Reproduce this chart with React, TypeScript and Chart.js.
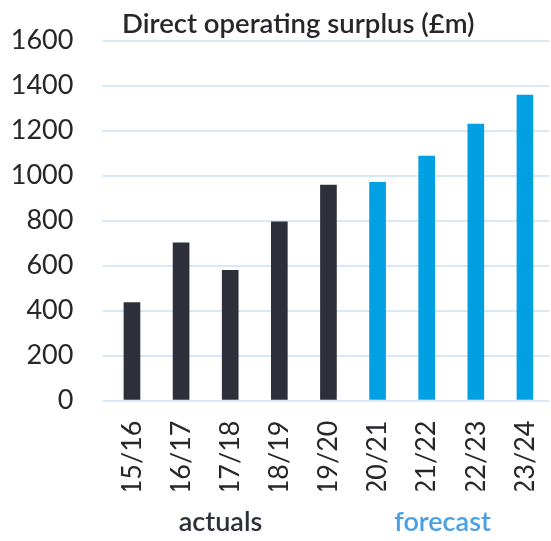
import React, { useEffect, useRef } from "react";
import { Chart, registerables } from "chart.js";

Chart.register(...registerables);

const categories = ["15/16", "16/17", "17/18", "18/19", "19/20", "20/21", "21/22", "22/23", "23/24"];
const surplusValues = [435, 701, 579, 795, 958, 970, 1087, 1229, 1358];
const isForecast = [false, false, false, false, false, true, true, true, true];
const yTicks = [0, 200, 400, 600, 800, 1000, 1200, 1400, 1600];
const titleText = "Direct operating surplus (£m)";
const groupLabels = ["actuals", "forecast"];

const DARK = "#2d3039";
const BLUE = "#00a0e2";
const FORECAST_TEXT = "#4aa0e4";
const GRID = "#d9e8f6";
const FONT = "Lato, 'Open Sans', sans-serif";

const overlayPlugin = {
  id: "overlayText",
  afterDraw(chart: any) {
    const ctx = chart.ctx;
    const x = chart.scales.x;
    ctx.save();
    ctx.textBaseline = "alphabetic";
    ctx.fillStyle = "#26262b";
    ctx.font = `600 27.5px ${FONT}`;
    ctx.textAlign = "left";
    ctx.fillText(titleText, 122, 33);

    ctx.font = `600 27px ${FONT}`;
    ctx.textAlign = "center";
    const actualIdx = isForecast.map((f, i) => (f ? -1 : i)).filter((i) => i >= 0);
    const fcIdx = isForecast.map((f, i) => (f ? i : -1)).filter((i) => i >= 0);
    const cx = (idx: number[]) =>
      (x.getPixelForValue(idx[0]) + x.getPixelForValue(idx[idx.length - 1])) / 2;
    ctx.fillStyle = DARK;
    ctx.fillText(groupLabels[0], 220.5, 531);
    ctx.fillStyle = FORECAST_TEXT;
    ctx.fillText(groupLabels[1], 442.5, 531);
    void cx;
    ctx.restore();
  },
};

export default function App() {
  const ref = useRef<HTMLCanvasElement>(null);
  useEffect(() => {
    document.body.style.margin = "0";
    const chart = new Chart(ref.current!, {
      type: "bar",
      data: {
        labels: categories,
        datasets: [
          {
            data: surplusValues,
            backgroundColor: isForecast.map((f) => (f ? BLUE : DARK)),
            borderWidth: 0,
            barThickness: 16,
          },
        ],
      },
      options: {
        animation: false,
        responsive: false,
        maintainAspectRatio: false,
        layout: { padding: { top: 40.7, right: 1.5, bottom: 50.5, left: 0 } },
        plugins: {
          legend: { display: false },
          title: { display: false },
          tooltip: { enabled: false },
        },
        scales: {
          x: {
            grid: { display: false, drawTicks: false },
            border: { display: false },
            afterFit: (s: any) => {
              s.height = 90;
              s.paddingLeft = 0;
              s.paddingRight = 0;
            },
            ticks: {
              minRotation: 90,
              maxRotation: 90,
              autoSkip: false,
              padding: 20,
              color: "#26262b",
              font: { family: FONT, size: 27 },
            },
          },
          y: {
            min: 0,
            max: 1600,
            afterFit: (s: any) => {
              s.width = 107.4;
              s.paddingTop = 0;
              s.paddingBottom = 0;
            },
            afterBuildTicks: (s: any) => {
              s.ticks = yTicks.map((v) => ({ value: v }));
            },
            grid: { color: GRID, lineWidth: 2, drawTicks: true, tickLength: 5 },
            border: { display: false },
            ticks: {
              padding: 29,
              color: "#26262b",
              font: { family: FONT, size: 27 },
              callback: (v: any) => String(v),
            },
          },
        },
      },
      plugins: [overlayPlugin],
    });
    return () => chart.destroy();
  }, []);
  return <canvas ref={ref} width={551} height={541} style={{ display: "block" }} />;
}
